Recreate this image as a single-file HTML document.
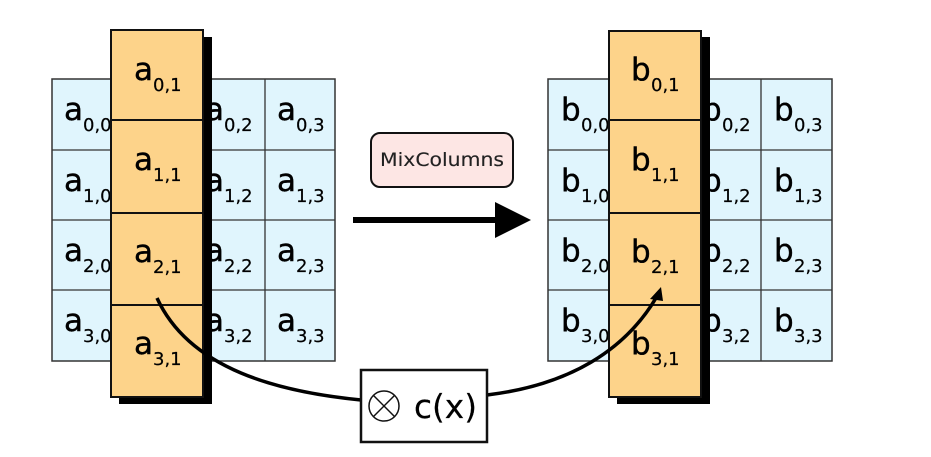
<!DOCTYPE html>
<html><head><meta charset="utf-8"><style>
html,body{margin:0;padding:0;background:#fff;}
svg{display:block;}
text{font-family:"DejaVu Sans","Liberation Sans",sans-serif;fill:#000;stroke:#000;stroke-width:0.4px;}
.l{font-size:31px}
.s{font-size:18px;stroke-width:0.2px}
</style></head><body>
<svg width="931" height="457" viewBox="0 0 931 457" xmlns="http://www.w3.org/2000/svg">
<rect x="52" y="79" width="283" height="282" fill="#e0f5fd" stroke="#333" stroke-width="1.5"/>
<g stroke="#333" stroke-width="1.3">
<line x1="123" y1="79" x2="123" y2="361"/><line x1="194" y1="79" x2="194" y2="361"/><line x1="265" y1="79" x2="265" y2="361"/>
<line x1="52" y1="150" x2="335" y2="150"/><line x1="52" y1="220" x2="335" y2="220"/><line x1="52" y1="290" x2="335" y2="290"/>
</g>
<text class="l" x="64" y="120">a</text><text class="s" x="83" y="131">0,0</text>
<text class="l" x="64" y="191">a</text><text class="s" x="83" y="202">1,0</text>
<text class="l" x="64" y="261">a</text><text class="s" x="83" y="272">2,0</text>
<text class="l" x="64" y="331">a</text><text class="s" x="83" y="342">3,0</text>
<text class="l" x="205" y="120">a</text><text class="s" x="224" y="131">0,2</text>
<text class="l" x="205" y="191">a</text><text class="s" x="224" y="202">1,2</text>
<text class="l" x="205" y="261">a</text><text class="s" x="224" y="272">2,2</text>
<text class="l" x="205" y="331">a</text><text class="s" x="224" y="342">3,2</text>
<text class="l" x="277" y="120">a</text><text class="s" x="296" y="131">0,3</text>
<text class="l" x="277" y="191">a</text><text class="s" x="296" y="202">1,3</text>
<text class="l" x="277" y="261">a</text><text class="s" x="296" y="272">2,3</text>
<text class="l" x="277" y="331">a</text><text class="s" x="296" y="342">3,3</text>
<rect x="119" y="37" width="93" height="367" fill="#000"/>
<rect x="111" y="30" width="92" height="367" fill="#fdd38a" stroke="#111" stroke-width="2"/>
<g stroke="#111" stroke-width="2"><line x1="111" y1="120" x2="203" y2="120"/><line x1="111" y1="213" x2="203" y2="213"/><line x1="111" y1="305" x2="203" y2="305"/></g>
<text class="l" x="134" y="80">a</text><text class="s" x="153" y="91">0,1</text>
<text class="l" x="134" y="170">a</text><text class="s" x="153" y="181">1,1</text>
<text class="l" x="134" y="262">a</text><text class="s" x="153" y="273">2,1</text>
<text class="l" x="134" y="354">a</text><text class="s" x="153" y="365">3,1</text>

<rect x="548" y="79" width="284" height="282" fill="#e0f5fd" stroke="#333" stroke-width="1.5"/>
<g stroke="#333" stroke-width="1.3">
<line x1="619" y1="79" x2="619" y2="361"/><line x1="690" y1="79" x2="690" y2="361"/><line x1="761" y1="79" x2="761" y2="361"/>
<line x1="548" y1="150" x2="832" y2="150"/><line x1="548" y1="220" x2="832" y2="220"/><line x1="548" y1="290" x2="832" y2="290"/>
</g>
<text class="l" x="561" y="120">b</text><text class="s" x="581" y="131">0,0</text>
<text class="l" x="561" y="191">b</text><text class="s" x="581" y="202">1,0</text>
<text class="l" x="561" y="261">b</text><text class="s" x="581" y="272">2,0</text>
<text class="l" x="561" y="331">b</text><text class="s" x="581" y="342">3,0</text>
<text class="l" x="702" y="120">b</text><text class="s" x="722" y="131">0,2</text>
<text class="l" x="702" y="191">b</text><text class="s" x="722" y="202">1,2</text>
<text class="l" x="702" y="261">b</text><text class="s" x="722" y="272">2,2</text>
<text class="l" x="702" y="331">b</text><text class="s" x="722" y="342">3,2</text>
<text class="l" x="774" y="120">b</text><text class="s" x="794" y="131">0,3</text>
<text class="l" x="774" y="191">b</text><text class="s" x="794" y="202">1,3</text>
<text class="l" x="774" y="261">b</text><text class="s" x="794" y="272">2,3</text>
<text class="l" x="774" y="331">b</text><text class="s" x="794" y="342">3,3</text>
<rect x="617" y="37" width="93" height="367" fill="#000"/>
<rect x="609" y="31" width="92" height="366" fill="#fdd38a" stroke="#111" stroke-width="2"/>
<g stroke="#111" stroke-width="2"><line x1="609" y1="120" x2="701" y2="120"/><line x1="609" y1="213" x2="701" y2="213"/><line x1="609" y1="305" x2="701" y2="305"/></g>
<text class="l" x="631" y="80">b</text><text class="s" x="651" y="91">0,1</text>
<text class="l" x="631" y="170">b</text><text class="s" x="651" y="181">1,1</text>
<text class="l" x="631" y="262">b</text><text class="s" x="651" y="273">2,1</text>
<text class="l" x="631" y="354">b</text><text class="s" x="651" y="365">3,1</text>

<rect x="371" y="133" width="142" height="54" rx="9" fill="#fde6e4" stroke="#111" stroke-width="2"/>
<text x="442" y="166" text-anchor="middle" style="font-size:19px;stroke-width:0.1px;fill:#222" textLength="124" lengthAdjust="spacingAndGlyphs">MixColumns</text>
<line x1="353" y1="220" x2="498" y2="220" stroke="#000" stroke-width="6"/>
<polygon points="495,202 531,220 495,238" fill="#000"/>

<path d="M157,298 C190,370 280,392 361,400" fill="none" stroke="#000" stroke-width="3.5"/>
<path d="M487,395 C570,385 625,350 656,298" fill="none" stroke="#000" stroke-width="3.5"/>
<polygon points="661,287 650,299 663,301" fill="#000"/>

<rect x="361" y="370" width="126" height="72" fill="#fff" stroke="#111" stroke-width="2.5"/>
<circle cx="384" cy="406" r="15" fill="none" stroke="#111" stroke-width="1.5"/>
<line x1="373.4" y1="395.4" x2="394.6" y2="416.6" stroke="#111" stroke-width="1.5"/>
<line x1="394.6" y1="395.4" x2="373.4" y2="416.6" stroke="#111" stroke-width="1.5"/>
<text x="414" y="418" style="font-size:33px;stroke-width:0.2px" textLength="63" lengthAdjust="spacingAndGlyphs">c(x)</text>
</svg>
</body></html>
